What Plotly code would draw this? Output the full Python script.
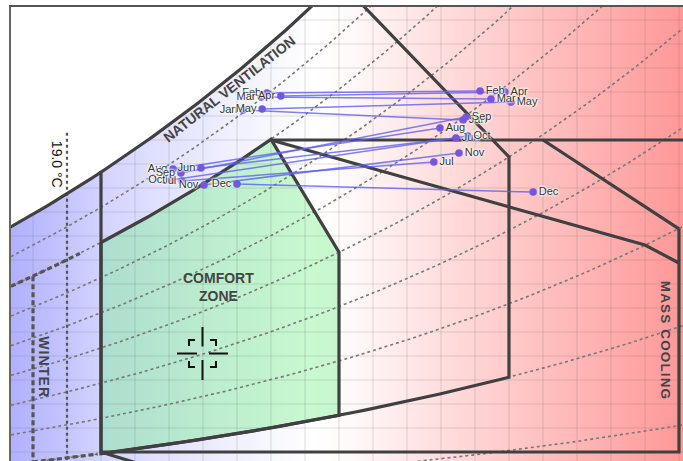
import numpy as np
import plotly.graph_objects as go

# ---- monthly climate ranges (dry-bulb °C, humidity ratio g/kg) ----
months = ["Jan", "Feb", "Mar", "Apr", "May", "Jun", "Jul", "Aug", "Sep", "Oct", "Nov", "Dec"]
t_low = [24.18, 24.88, 24.71, 25.29, 24.74, 22.94, 22.38, 22.12, 22.35, 22.06, 23.03, 24.00]
w_low = [17.25, 17.96, 17.79, 17.83, 17.29, 14.83, 14.29, 14.79, 14.63, 14.33, 14.13, 14.17]
t_high = [30.65, 31.15, 31.47, 31.88, 32.06, 30.44, 29.79, 29.97, 30.74, 30.79, 30.53, 32.71]
w_high = [16.83, 18.04, 17.71, 18.00, 17.58, 16.08, 15.08, 16.50, 16.96, 16.17, 15.46, 13.83]

# ---- visible window of the psychrometric chart ----
X_RANGE = [17.353, 37.118]
Y_RANGE = [2.625, 21.542]
RH_LEVELS = [0.1, 0.2, 0.3, 0.4, 0.5, 0.6, 0.7, 0.8, 0.9]
GRID_T = list(range(18, 38))
GRID_W = list(range(3, 22))

DARK = "#404040"
FONT = "Liberation Sans, Arial, Helvetica, sans-serif"
HALO = "0px 0px 2px #fff, 0px 0px 2px #fff, 0px 0px 3px #fff, 0px 0px 3px #fff"
HS = "\u200a"  # hair space for letter-spaced captions


def wsat(t):
    t = np.asarray(t, dtype=float)
    ps = 610.94 * np.exp(17.625 * t / (t + 243.04))
    return 622.0 * ps / (101325.0 - ps)


def tsat(w):
    ps = w * 101325.0 / (622.0 + w)
    a = np.log(ps / 610.94)
    return 243.04 * a / (17.625 - a)


def rh_line(rh, t0, t1, n=80):
    t = np.linspace(t0, t1, n)
    return list(t), list(rh * wsat(t))


X0, X1 = X_RANGE
Y0, Y1 = Y_RANGE

fig = go.Figure()

# ---- background gradient under the saturation curve ----
tb = np.linspace(X0, X1, 240)
wb = np.minimum(wsat(tb), Y1 + 2)
fig.add_trace(go.Scatter(
    x=list(tb) + [X1, X0], y=list(wb) + [Y0 - 1, Y0 - 1],
    mode="lines", fill="toself", line=dict(width=0),
    fillgradient=dict(
        type="horizontal", start=X0, stop=X1,
        colorscale=[[0.0, "rgb(176,176,255)"], [0.14, "rgb(212,212,255)"],
                    [0.3, "rgb(236,236,255)"], [0.45, "rgb(255,255,255)"],
                    [0.5, "rgb(255,250,250)"], [0.7, "rgb(255,210,210)"],
                    [1.0, "rgb(255,152,152)"]]),
    hoverinfo="skip", showlegend=False))

# ---- comfort zone fill ----
ct, cw = rh_line(0.8, 20, 25, 40)
ct += [27, 27]
cw += [0.5 * float(wsat(27)), 0.2 * float(wsat(27))]
bt, bw = rh_line(0.2, 27, 20, 40)
comfort_t = ct + bt + [ct[0]]
comfort_w = cw + bw + [cw[0]]
fig.add_trace(go.Scatter(
    x=comfort_t, y=comfort_w, mode="lines", fill="toself",
    fillcolor="rgba(110,240,130,0.38)", line=dict(width=0),
    hoverinfo="skip", showlegend=False))

# ---- grid, clipped at the saturation curve ----
gx, gy = [], []
for t in GRID_T:
    gx += [t, t, None]
    gy += [Y0 - 1, min(float(wsat(t)), Y1 + 2), None]
for w in GRID_W:
    gx += [float(tsat(w)), X1 + 1, None]
    gy += [w, w, None]
fig.add_trace(go.Scatter(x=gx, y=gy, mode="lines",
                         line=dict(color="rgba(90,90,90,0.2)", width=1),
                         hoverinfo="skip", showlegend=False))

# ---- relative humidity curves ----
for rh in RH_LEVELS:
    t, w = rh_line(rh, X0, X1, 120)
    fig.add_trace(go.Scatter(x=t, y=w, mode="lines",
                             line=dict(color="#777777", width=1.6, dash="dot"),
                             hoverinfo="skip", showlegend=False))

# ---- winter zone (dashed) and 19 °C marker line ----
wt, ww = rh_line(0.8, X0, 19.38, 30)
fig.add_trace(go.Scatter(x=wt, y=ww, mode="lines",
                         line=dict(color="#555555", width=3.2, dash="5px,3px"),
                         hoverinfo="skip", showlegend=False))
fig.add_trace(go.Scatter(x=[18, 18], y=[0.8 * float(wsat(18)), Y0 - 1], mode="lines",
                         line=dict(color="#555555", width=3.2, dash="5px,3px"),
                         hoverinfo="skip", showlegend=False))
wt2, ww2 = rh_line(0.2, 18, 19.9, 20)
fig.add_trace(go.Scatter(x=wt2, y=ww2, mode="lines",
                         line=dict(color="#555555", width=3.2, dash="5px,3px"),
                         hoverinfo="skip", showlegend=False))
fig.add_trace(go.Scatter(x=[19, 19], y=[16.3, Y0 - 1], mode="lines",
                         line=dict(color="#555555", width=2.2, dash="dot"),
                         hoverinfo="skip", showlegend=False))


# ---- zone boundaries ----
def outline(x, y, width=3.2):
    fig.add_trace(go.Scatter(x=x, y=y, mode="lines",
                             line=dict(color=DARK, width=width),
                             hoverinfo="skip", showlegend=False))


# saturation curve at the cold end
st, sw = rh_line(1.0, X0 - 0.2, 20, 40)
outline(st, sw)

# natural ventilation
nt, nw = rh_line(1.0, 20, 27, 60)
nb_t, nb_w = rh_line(0.2, 32, 20, 60)
outline([20] + nt + [32, 32] + nb_t,
        [0.2 * float(wsat(20))] + nw + [0.5 * float(wsat(32)), 0.2 * float(wsat(32))] + nb_w)

# comfort zone outline
outline(comfort_t, comfort_w)

# thermal mass / cooling boundaries
outline([25, X1 + 1], [16, 16])
outline([33, 37], [16, 12.3])
outline([25, 36, 37], [16, 11.625, 10.875])
outline([37, 37, 20], [12.3, 3.0, 3.0])
outline([20, 21.6], [3.0, 2.3])

# ---- monthly ranges ----
lx, ly = [], []
for a, b, c, d in zip(t_low, w_low, t_high, w_high):
    lx += [a, c, None]
    ly += [b, d, None]
fig.add_trace(go.Scatter(x=lx, y=ly, mode="lines",
                         line=dict(color="rgba(95,95,240,0.8)", width=1.5),
                         hoverinfo="skip", showlegend=False))
label_font = dict(family=FONT, size=11, color="#333333", shadow=HALO)
fig.add_trace(go.Scatter(x=t_low, y=w_low, mode="markers+text", text=months,
                         textposition="middle left", textfont=label_font,
                         marker=dict(color="#7457dc", size=7.5),
                         hoverinfo="skip", showlegend=False))
fig.add_trace(go.Scatter(x=t_high, y=w_high, mode="markers+text", text=months,
                         textposition="middle right", textfont=label_font,
                         marker=dict(color="#7457dc", size=7.5),
                         hoverinfo="skip", showlegend=False))


# ---- zone labels ----
def label(text, x, y, size, angle=0, color="#444444", weight="bold"):
    fig.add_annotation(x=x, y=y, text=text, showarrow=False, textangle=angle,
                       xanchor="center", yanchor="middle",
                       font=dict(family=FONT, size=size, color=color, weight=weight))


label("NATURAL VENTILATION", 23.77, 18.13, 14, angle=-38)
label("COMFORT<br>ZONE", 23.47, 9.87, 14)
label(HS.join("WINTER"), 18.32, 6.54, 14, angle=90)
label(HS.join("MASS COOLING"), 36.59, 7.67, 13.5, angle=90)
label("19.0 °C", 18.71, 15.0, 14, angle=90, color="#111111", weight="normal")

# ---- crosshair cursor ----
CX, CY = 22.985, 7.104
cross = [(0, 7, 0, 26.5), (0, -6.5, 0, -26.5), (-25.5, 0, -5.5, 0), (6.5, 0, 25.5, 0)]
for x0, y0, x1, y1 in cross:
    fig.add_shape(type="line", xsizemode="pixel", ysizemode="pixel",
                  xanchor=CX, yanchor=CY, x0=x0, y0=y0, x1=x1, y1=y1,
                  line=dict(color="#111111", width=2))
for sx in (-1, 1):
    for sy in (-1, 1):
        cx, cy = 13.5 * sx, 13.5 * sy
        path = f"M {cx - 6 * sx},{cy} L {cx},{cy} L {cx},{cy - 6 * sy}"
        fig.add_shape(type="path", path=path, xsizemode="pixel", ysizemode="pixel",
                      xanchor=CX, yanchor=CY, line=dict(color="#111111", width=2))

fig.update_layout(
    width=683, height=461,
    margin=dict(l=11, r=0, t=7, b=0, autoexpand=False),
    paper_bgcolor="white", plot_bgcolor="white",
    xaxis=dict(range=X_RANGE, side="top", showgrid=False, zeroline=False,
               showticklabels=False, ticks="", showline=True,
               linecolor="#555555", linewidth=1.5),
    yaxis=dict(range=Y_RANGE, showgrid=False, zeroline=False,
               showticklabels=False, ticks="", showline=True,
               linecolor="#666666", linewidth=2),
)

fig.write_html("out.html")
